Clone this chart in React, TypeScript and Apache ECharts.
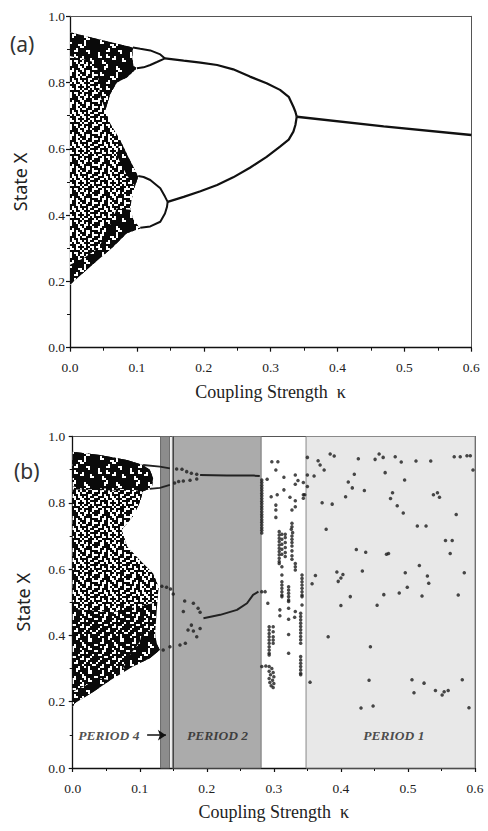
import React, { useEffect, useRef } from 'react';
import * as echarts from 'echarts';

type P = [number, number];

// ---------------- axes ----------------
const xTickLabels = ['0.0', '0.1', '0.2', '0.3', '0.4', '0.5', '0.6'];
const yTickLabels = ['0.0', '0.2', '0.4', '0.6', '0.8', '1.0'];
const xTitle = 'Coupling Strength  κ';
const yTitle = 'State X';

// ---------------- panel (a) ----------------
const aChaosEnvelope: P[] = [
  [0, 0.952], [0.03, 0.937], [0.06, 0.922], [0.094, 0.906], [0.093, 0.875], [0.095, 0.85],
  [0.1, 0.843], [0.085, 0.815], [0.07, 0.8], [0.06, 0.765], [0.053, 0.717], [0.06, 0.677],
  [0.075, 0.627], [0.087, 0.576], [0.097, 0.536], [0.102, 0.516], [0.097, 0.486], [0.092, 0.446],
  [0.09, 0.416], [0.095, 0.385], [0.105, 0.36], [0.085, 0.345], [0.065, 0.305], [0.03, 0.244], [0, 0.19],
];
const aChaosDenseUpper: P[] = [
  [0, 0.952], [0.094, 0.906], [0.093, 0.875], [0.095, 0.85], [0.1, 0.843], [0.085, 0.815],
  [0.07, 0.8], [0.06, 0.765], [0.053, 0.717], [0.045, 0.76], [0.04, 0.86], [0, 0.88],
];
const aChaosDenseMid: P[] = [
  [0.075, 0.627], [0.087, 0.576], [0.097, 0.536], [0.102, 0.516], [0.097, 0.486], [0.085, 0.52], [0.07, 0.58],
];
const aChaosDenseLower: P[] = [
  [0.07, 0.42], [0.09, 0.416], [0.095, 0.385], [0.105, 0.36], [0.085, 0.345], [0.065, 0.305],
  [0.05, 0.28], [0.045, 0.31], [0.06, 0.37],
];
const aChaosDenseEdge: P[] = [
  [0, 0.19], [0.03, 0.244], [0.065, 0.305], [0.05, 0.31], [0.02, 0.27], [0, 0.25],
];
const aLoopUpperTop: P[] = [[0.094, 0.906], [0.105, 0.902], [0.12, 0.897], [0.135, 0.885], [0.142, 0.873]];
const aLoopUpperBottom: P[] = [[0.1, 0.843], [0.11, 0.846], [0.12, 0.853], [0.13, 0.862], [0.142, 0.873]];
const aLoopLowerTop: P[] = [[0.102, 0.518], [0.11, 0.515], [0.12, 0.506], [0.135, 0.481], [0.142, 0.456], [0.146, 0.44]];
const aLoopLowerBottom: P[] = [[0.105, 0.362], [0.12, 0.366], [0.135, 0.38], [0.142, 0.405], [0.145, 0.425], [0.146, 0.44]];
const aPeriod2Upper: P[] = [
  [0.142, 0.873], [0.17, 0.866], [0.195, 0.86], [0.22, 0.853], [0.244, 0.84], [0.269, 0.818],
  [0.294, 0.798], [0.314, 0.778], [0.327, 0.757], [0.334, 0.727], [0.337, 0.712], [0.339, 0.697],
];
const aPeriod2Lower: P[] = [
  [0.146, 0.44], [0.17, 0.455], [0.195, 0.472], [0.22, 0.491], [0.244, 0.514], [0.269, 0.543],
  [0.294, 0.576], [0.314, 0.607], [0.327, 0.628], [0.334, 0.652], [0.337, 0.672], [0.339, 0.697],
];
const aPeriod1: P[] = [[0.339, 0.697], [0.469, 0.668], [0.6, 0.642]];

// ---------------- panel (b) ----------------
const period4Band: P = [0.131, 0.1445];
const bandDivider = 0.1451;
const period2Band: P = [0.1486, 0.281];
const period1Band: P = [0.348, 0.6];

const bChaosEnvelope: P[] = [
  [0, 0.954], [0.041, 0.944], [0.081, 0.929], [0.105, 0.914], [0.115, 0.9], [0.12, 0.875],
  [0.118, 0.845], [0.105, 0.835], [0.1, 0.8], [0.09, 0.76], [0.073, 0.718], [0.081, 0.668],
  [0.1, 0.627], [0.12, 0.587], [0.128, 0.547], [0.125, 0.467], [0.123, 0.406], [0.125, 0.376],
  [0.13, 0.356], [0.115, 0.331], [0.09, 0.306], [0.056, 0.265], [0.031, 0.23], [0.003, 0.195], [0, 0.185],
];
const bChaosMidBand: P[] = [
  [0, 0.84], [0.105, 0.835], [0.1, 0.8], [0.09, 0.76], [0.073, 0.718], [0.081, 0.668],
  [0.1, 0.627], [0.12, 0.587], [0.128, 0.547], [0.126, 0.5], [0.06, 0.47], [0, 0.48],
];
const bChaosDenseUpper: P[] = [
  [0, 0.954], [0.041, 0.944], [0.081, 0.929], [0.105, 0.914], [0.115, 0.9], [0.12, 0.875],
  [0.118, 0.845], [0.105, 0.835], [0.06, 0.845], [0.02, 0.84], [0, 0.85],
];
const bChaosDenseLower: P[] = [
  [0.105, 0.42], [0.123, 0.406], [0.125, 0.376], [0.13, 0.356], [0.115, 0.331], [0.09, 0.306],
  [0.075, 0.3], [0.085, 0.34], [0.1, 0.38],
];
const bChaosDenseEdge: P[] = [
  [0, 0.185], [0.003, 0.195], [0.031, 0.23], [0.056, 0.265], [0.04, 0.27], [0.01, 0.24], [0, 0.23],
];
const bUpperTop: P[] = [[0.105, 0.914], [0.13, 0.909], [0.145, 0.904]];
const bUpperBottom: P[] = [[0.115, 0.842], [0.13, 0.845], [0.145, 0.854]];
const bPeriod2Upper: P[] = [[0.19, 0.884], [0.21, 0.883], [0.23, 0.882], [0.25, 0.882], [0.27, 0.882], [0.279, 0.881]];
const bPeriod2Lower: P[] = [[0.195, 0.452], [0.22, 0.462], [0.245, 0.477], [0.26, 0.497], [0.269, 0.522], [0.277, 0.532]];
const bBranchDots: P[] = [
  [0.155, 0.902], [0.163, 0.901], [0.17, 0.894], [0.177, 0.889], [0.185, 0.886],
  [0.152, 0.86], [0.158, 0.864], [0.165, 0.866], [0.175, 0.868], [0.185, 0.872],
  [0.133, 0.548], [0.14, 0.545], [0.146, 0.54], [0.15, 0.525], [0.167, 0.504], [0.18, 0.497], [0.187, 0.482], [0.19, 0.47],
  [0.135, 0.356], [0.145, 0.366], [0.16, 0.371], [0.168, 0.376], [0.172, 0.416], [0.177, 0.431],
  [0.18, 0.413], [0.185, 0.396], [0.19, 0.421], [0.165, 0.472],
];
const bTransitionDots: P[] = [
  // end of period 2
  [0.282, 0.869], [0.282, 0.861], [0.282, 0.853], [0.282, 0.845], [0.282, 0.837], [0.282, 0.829],
  [0.282, 0.821], [0.282, 0.813], [0.282, 0.805], [0.282, 0.797], [0.282, 0.789], [0.282, 0.781],
  [0.282, 0.773], [0.282, 0.765], [0.282, 0.757], [0.282, 0.749], [0.282, 0.741], [0.282, 0.733],
  [0.282, 0.725], [0.282, 0.717], [0.282, 0.709], [0.282, 0.532], [0.287, 0.532], [0.282, 0.306], [0.288, 0.308],
  // scattered upper
  [0.297, 0.924], [0.306, 0.924], [0.303, 0.899], [0.29, 0.871], [0.315, 0.877], [0.332, 0.884],
  [0.336, 0.867], [0.332, 0.856], [0.344, 0.861], [0.315, 0.839], [0.296, 0.818], [0.305, 0.824],
  [0.324, 0.817], [0.332, 0.806], [0.344, 0.824], [0.344, 0.814], [0.303, 0.793], [0.303, 0.778],
  [0.303, 0.756], [0.332, 0.788], [0.327, 0.778], [0.327, 0.738], [0.327, 0.728], [0.326, 0.72], [0.328, 0.71],
  // middle columns
  [0.308, 0.713], [0.308, 0.703], [0.308, 0.693], [0.308, 0.683], [0.308, 0.673], [0.308, 0.663],
  [0.308, 0.653], [0.308, 0.643], [0.308, 0.633], [0.308, 0.623], [0.308, 0.617],
  [0.312, 0.705], [0.312, 0.69], [0.312, 0.675], [0.312, 0.66], [0.312, 0.645], [0.312, 0.607],
  [0.312, 0.582], [0.312, 0.562], [0.312, 0.552], [0.312, 0.542], [0.312, 0.532], [0.312, 0.522], [0.312, 0.517],
  [0.317, 0.705], [0.317, 0.695], [0.317, 0.68], [0.317, 0.665], [0.317, 0.65], [0.317, 0.638],
  [0.327, 0.7], [0.327, 0.69], [0.327, 0.68], [0.327, 0.67], [0.327, 0.655], [0.327, 0.64], [0.327, 0.63],
  [0.332, 0.617], [0.332, 0.607], [0.332, 0.597],
  [0.342, 0.582], [0.342, 0.572], [0.342, 0.562], [0.342, 0.552], [0.342, 0.542], [0.342, 0.532],
  [0.342, 0.522], [0.342, 0.517], [0.342, 0.492],
  [0.322, 0.547], [0.322, 0.537], [0.322, 0.527], [0.322, 0.517], [0.322, 0.507], [0.322, 0.502],
  [0.322, 0.482], [0.322, 0.449], [0.322, 0.403], [0.322, 0.346],
  [0.291, 0.497], [0.309, 0.477], [0.309, 0.459], [0.332, 0.472], [0.331, 0.455],
  // lower columns
  [0.34, 0.467], [0.34, 0.457], [0.34, 0.447], [0.34, 0.437], [0.34, 0.427], [0.34, 0.417],
  [0.34, 0.407], [0.34, 0.397], [0.34, 0.387], [0.34, 0.376],
  [0.34, 0.336], [0.34, 0.326], [0.34, 0.316], [0.34, 0.306], [0.34, 0.296], [0.34, 0.286], [0.34, 0.281],
  [0.293, 0.426], [0.293, 0.416], [0.293, 0.406], [0.293, 0.396], [0.293, 0.386], [0.293, 0.376],
  [0.293, 0.366], [0.293, 0.356], [0.293, 0.346], [0.293, 0.341],
  [0.299, 0.426], [0.299, 0.411], [0.299, 0.396], [0.299, 0.386], [0.299, 0.376],
  [0.293, 0.306], [0.297, 0.3], [0.293, 0.292], [0.299, 0.288], [0.295, 0.281], [0.3, 0.275],
  [0.293, 0.27], [0.298, 0.265], [0.294, 0.258], [0.3, 0.255], [0.296, 0.248], [0.299, 0.243],
];
const bPeriod1Dots: P[] = [
  [0.35, 0.937], [0.35, 0.884], [0.35, 0.849], [0.346, 0.824],
  [0.366, 0.927], [0.369, 0.914], [0.375, 0.899], [0.384, 0.947], [0.39, 0.941], [0.36, 0.881],
  [0.42, 0.886], [0.411, 0.863], [0.417, 0.845], [0.407, 0.818], [0.435, 0.837], [0.372, 0.8],
  [0.387, 0.796], [0.378, 0.72], [0.423, 0.659], [0.432, 0.594], [0.394, 0.591], [0.362, 0.581],
  [0.403, 0.584], [0.4, 0.573], [0.396, 0.563], [0.357, 0.556], [0.414, 0.517], [0.4, 0.49],
  [0.426, 0.933], [0.451, 0.931], [0.457, 0.947], [0.463, 0.937], [0.481, 0.939], [0.49, 0.923],
  [0.512, 0.926], [0.534, 0.926], [0.569, 0.939], [0.578, 0.939], [0.588, 0.942], [0.593, 0.942],
  [0.597, 0.899], [0.466, 0.891], [0.495, 0.869], [0.477, 0.83], [0.474, 0.813], [0.484, 0.791],
  [0.493, 0.769], [0.538, 0.824], [0.544, 0.83], [0.547, 0.817], [0.572, 0.765], [0.514, 0.73],
  [0.527, 0.73], [0.556, 0.686], [0.566, 0.686], [0.563, 0.647], [0.437, 0.651], [0.468, 0.645],
  [0.471, 0.647], [0.517, 0.611], [0.496, 0.589], [0.529, 0.579], [0.531, 0.557], [0.499, 0.545],
  [0.584, 0.589], [0.464, 0.523], [0.487, 0.528], [0.521, 0.519], [0.575, 0.522], [0.454, 0.491],
  [0.444, 0.366], [0.442, 0.265], [0.43, 0.181], [0.448, 0.187], [0.506, 0.266], [0.509, 0.227],
  [0.524, 0.256], [0.541, 0.234], [0.551, 0.22], [0.554, 0.23], [0.56, 0.234], [0.581, 0.266],
  [0.591, 0.182], [0.381, 0.396], [0.354, 0.259],
];
const periodLabels = ['PERIOD 4', 'PERIOD 2', 'PERIOD 1'];
const periodLabelX = [0.054, 0.216, 0.479];
const periodLabelY = 0.097;
const arrowFrom: P = [0.111, 0.099];
const arrowTo: P = [0.139, 0.099];

// ---------------- textures (style only) ----------------
const denseTile = [
  '#####.##########',
  '####..####.#####',
  '####.#####..####',
  '###########..###',
  '##.#######.#####',
  '##..######.#####',
  '#######..#.#####',
  '########..######',
  '######.#########',
  '#####..####..###',
  '#.##########.###',
  '#.###.##########',
  '#..##..##.######',
  '########..###.##',
  '###.#########..#',
  '###..###########',
];
const mediumTile = [
  '###.####.###..##',
  '##..#####.######',
  '.####.###..####.',
  '##.#..####.#.###',
  '####.###.###..##',
  '.##..####.#####.',
  '###.####..#.####',
  '#..####.######.#',
  '####..###.###.##',
  '##.#####..#..###',
  '#.####.####.####',
  '.####..###.##.##',
  '###.#####.####..',
  '##..###.##.#.###',
  '#.####..####.###',
  '###.##.#####..##',
];
const speckleTile = [
  '##..###.##..#.##',
  '#..####..#.###.#',
  '..##.###..####..',
  '#.#..#.##.#..###',
  '###.##..###..#.#',
  '.#..##.#.##.##..',
  '##.###..#..###.#',
  '#..#.##.####..##',
  '.###..#..#.#.##.',
  '##..#.##..###..#',
  '#.####..#..#.###',
  '..#.##.###.##..#',
  '###..#..#.##.#.#',
  '#..#####.#..###.',
  '.##.#..##.####..',
  '##..##.#..#.##.#',
];

function makePattern(rows: string[], cell: number): any {
  const n = rows[0].length;
  const c = document.createElement('canvas');
  c.width = n * cell;
  c.height = rows.length * cell;
  const ctx = c.getContext('2d');
  if (!ctx) return '#222';
  ctx.fillStyle = '#ffffff';
  ctx.fillRect(0, 0, c.width, c.height);
  ctx.fillStyle = '#0a0a0a';
  rows.forEach((r, j) => {
    for (let i = 0; i < r.length; i++) if (r[i] === '#') ctx.fillRect(i * cell, j * cell, cell, cell);
  });
  return { image: c.toDataURL(), repeat: 'repeat', imageWidth: c.width, imageHeight: c.height };
}

function polySeries(points: P[], axis: number, fill: any, z: number) {
  return {
    type: 'custom',
    xAxisIndex: axis,
    yAxisIndex: axis,
    z,
    silent: true,
    clip: true,
    data: points,
    renderItem: (params: any, api: any) => {
      if (params.dataIndex !== 0) return null;
      const pts = points.map((p) => api.coord(p));
      return { type: 'polygon', shape: { points: pts }, style: { fill, stroke: null } };
    },
  };
}

function lineSeries(points: P[], axis: number, width: number, color: string) {
  return {
    type: 'line',
    xAxisIndex: axis,
    yAxisIndex: axis,
    z: 4,
    silent: true,
    symbol: 'none',
    showSymbol: false,
    lineStyle: { color, width },
    data: points,
  };
}

function dotSeries(points: P[], axis: number, size: number) {
  return {
    type: 'scatter',
    xAxisIndex: axis,
    yAxisIndex: axis,
    z: 5,
    silent: true,
    symbol: 'circle',
    symbolSize: size,
    itemStyle: { color: '#1c1c1c' },
    data: points,
  };
}

const serif = '"Liberation Serif", "Times New Roman", serif';
const sans = '"Noto Sans", "Open Sans", sans-serif';

function mkX(grid: number, top = false): any {
  if (top) {
    return {
      type: 'value', gridIndex: grid, position: 'top', min: 0, max: 0.6, interval: 0.1,
      axisLine: { show: true, onZero: false, lineStyle: { color: '#555', width: 1 } },
      axisTick: { show: false }, axisLabel: { show: false }, splitLine: { show: false },
    };
  }
  return {
    type: 'value', gridIndex: grid, min: 0, max: 0.6, interval: 0.1,
    axisLine: { show: true, onZero: false, lineStyle: { color: '#111', width: 1.3 } },
    axisTick: { show: true, length: 4, lineStyle: { color: '#111', width: 1.2 } },
    minorTick: { show: true, splitNumber: 2, length: 3, lineStyle: { color: '#111', width: 1 } },
    splitLine: { show: false },
    minorSplitLine: { show: false },
    axisLabel: {
      margin: 13, color: '#222', fontFamily: serif, fontSize: 13.5,
      formatter: (v: number) => xTickLabels[Math.round(v * 10)] ?? '',
    },
    name: xTitle,
    nameLocation: 'middle',
    nameGap: 35,
    nameTextStyle: { fontFamily: serif, fontSize: 18, color: '#222' },
  };
}

function mkY(grid: number, margin: number, right = false): any {
  if (right) {
    return {
      type: 'value', gridIndex: grid, position: 'right', min: 0, max: 1, interval: 0.2,
      axisLine: { show: true, onZero: false, lineStyle: { color: '#555', width: 1 } },
      axisTick: { show: false }, axisLabel: { show: false }, splitLine: { show: false },
    };
  }
  return {
    type: 'value', gridIndex: grid, min: 0, max: 1, interval: 0.2,
    axisLine: { show: true, onZero: false, lineStyle: { color: '#111', width: 1.3 } },
    axisTick: { show: true, length: 4, lineStyle: { color: '#111', width: 1.2 } },
    minorTick: { show: true, splitNumber: 2, length: 3, lineStyle: { color: '#111', width: 1 } },
    splitLine: { show: false },
    minorSplitLine: { show: false },
    axisLabel: {
      margin, color: '#222', fontFamily: serif, fontSize: 13.5,
      formatter: (v: number) => yTickLabels[Math.round(v * 5)] ?? '',
    },
    name: yTitle,
    nameLocation: 'middle',
    nameRotate: 90,
    nameGap: 41,
    nameTextStyle: { fontFamily: sans, fontSize: 18, color: '#222' },
  };
}

export default function App() {
  const ref = useRef<HTMLDivElement>(null);
  useEffect(() => {
    if (!ref.current) return;
    const chart = echarts.init(ref.current, undefined, { renderer: 'svg' });
    const dense = makePattern(denseTile, 2);
    const medium = makePattern(mediumTile, 2);
    const speckle = makePattern(speckleTile, 2);

    const option: any = {
      animation: false,
      backgroundColor: '#ffffff',
      grid: [
        { left: 70, top: 16.3, width: 401.3, height: 331.4 },
        { left: 72.7, top: 436.5, width: 402.3, height: 331.5 },
      ],
      xAxis: [mkX(0), mkX(1), mkX(0, true), mkX(1, true)],
      yAxis: [mkY(0, 5), mkY(1, 7.5), mkY(0, 0, true), mkY(1, 0, true)],
      graphic: [
        { type: 'text', left: 10, top: 33, style: { text: '(a)', font: '21px ' + sans, fill: '#333' } },
        { type: 'text', left: 14, top: 460, style: { text: '(b)', font: '21px ' + sans, fill: '#333' } },
      ],
      series: [
        // ---- panel (a)
        polySeries(aChaosEnvelope, 0, speckle, 2),
        polySeries(aChaosDenseUpper, 0, dense, 3),
        polySeries(aChaosDenseMid, 0, dense, 3),
        polySeries(aChaosDenseLower, 0, dense, 3),
        polySeries(aChaosDenseEdge, 0, dense, 3),
        lineSeries(aLoopUpperTop, 0, 2, '#111'),
        lineSeries(aLoopUpperBottom, 0, 2, '#111'),
        lineSeries(aLoopLowerTop, 0, 2, '#111'),
        lineSeries(aLoopLowerBottom, 0, 2, '#111'),
        lineSeries(aPeriod2Upper, 0, 2.2, '#111'),
        lineSeries(aPeriod2Lower, 0, 2.2, '#111'),
        lineSeries(aPeriod1, 0, 2.4, '#111'),
        // ---- panel (b) shaded bands
        {
          type: 'scatter', xAxisIndex: 1, yAxisIndex: 1, z: -1, silent: true, data: [],
          markArea: {
            silent: true,
            label: { show: false },
            data: [
              [{ xAxis: period4Band[0], yAxis: 0, itemStyle: { color: '#8c8c8c', borderColor: '#6a6a6a', borderWidth: 1 } }, { xAxis: period4Band[1], yAxis: 1 }],
              [{ xAxis: period2Band[0], yAxis: 0, itemStyle: { color: '#ababab', borderColor: '#777', borderWidth: 1 } }, { xAxis: period2Band[1], yAxis: 1 }],
              [{ xAxis: period1Band[0], yAxis: 0, itemStyle: { color: '#e8e8e8', borderColor: '#8a8a8a', borderWidth: 1 } }, { xAxis: period1Band[1], yAxis: 1 }],
            ],
          },
          markLine: {
            silent: true,
            symbol: 'none',
            label: { show: false },
            lineStyle: { color: '#444', width: 1, type: 'solid' },
            data: [{ xAxis: bandDivider }],
          },
        },
        polySeries(bChaosEnvelope, 1, medium, 2),
        polySeries(bChaosMidBand, 1, speckle, 2.5),
        polySeries(bChaosDenseUpper, 1, dense, 3),
        polySeries(bChaosDenseLower, 1, dense, 3),
        polySeries(bChaosDenseEdge, 1, dense, 3),
        lineSeries(bUpperTop, 1, 1.8, '#222'),
        lineSeries(bUpperBottom, 1, 1.8, '#222'),
        lineSeries(bPeriod2Upper, 1, 2, '#222'),
        lineSeries(bPeriod2Lower, 1, 2, '#222'),
        dotSeries(bBranchDots, 1, 3.5),
        dotSeries(bTransitionDots, 1, 3.5),
        dotSeries(bPeriod1Dots, 1, 3.5),
        {
          type: 'scatter', xAxisIndex: 1, yAxisIndex: 1, z: 6, silent: true,
          symbolSize: 0,
          data: periodLabels.map((t, i) => ({ value: [periodLabelX[i], periodLabelY], name: t })),
          label: {
            show: true, position: 'inside', formatter: (p: any) => p.name,
            fontFamily: serif, fontStyle: 'italic', fontWeight: 'bold', fontSize: 13.5, color: '#222',
          },
          markLine: {
            silent: true,
            symbol: ['none', 'arrow'],
            symbolSize: 8,
            label: { show: false },
            lineStyle: { color: '#111', width: 1.5, type: 'solid' },
            data: [[{ coord: arrowFrom }, { coord: arrowTo }]],
          },
        },
      ],
    };
    chart.setOption(option);
    return () => chart.dispose();
  }, []);
  return (
    <div
      ref={ref}
      style={{ position: 'absolute', left: 0, top: 0, width: 488, height: 831, background: '#fff' }}
    />
  );
}
